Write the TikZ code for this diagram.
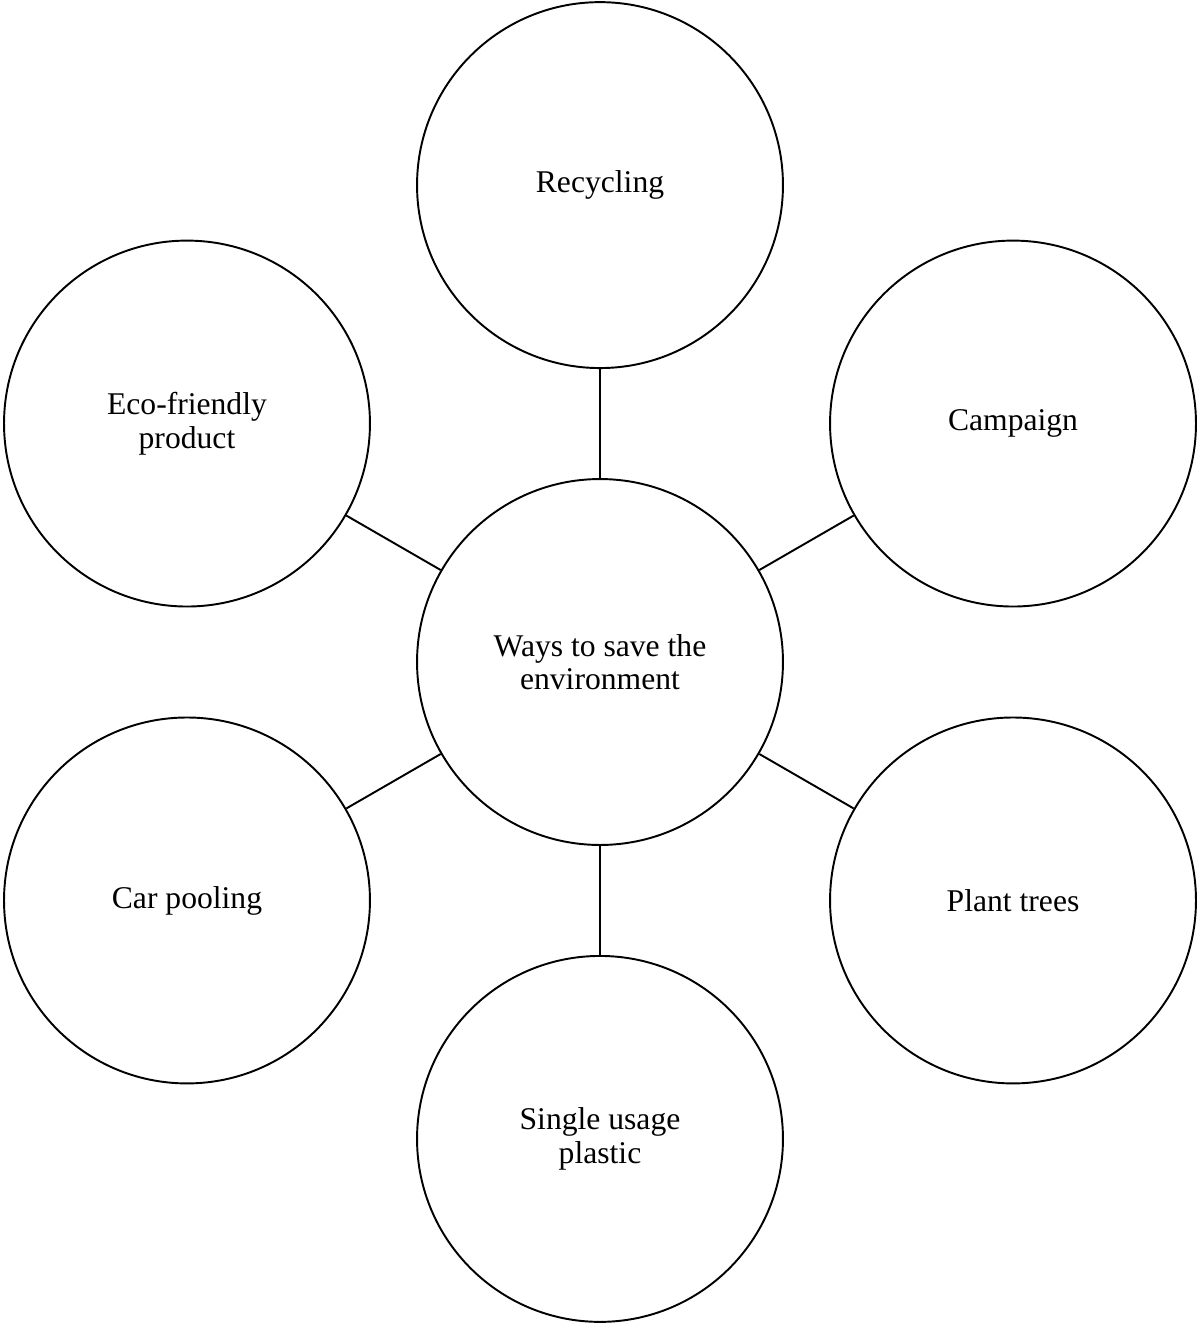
\documentclass[tikz,border=0pt]{standalone}
\usepackage{fontspec}
\setmainfont{Liberation Serif}
\begin{document}
\begin{tikzpicture}[x=.02cm,y=-.02cm, bub/.style={draw,circle,line width=1.1pt,minimum size=7.32cm,inner sep=0pt,align=center,font=\fontsize{18}{19}\selectfont}]
\useasboundingbox (0,0) rectangle (1198,1323);
\node[bub] (w) at (600,662) {Ways to save the\\environment};
\path (w) ++(90:9.54cm) node[bub] (rec) {Recycling}
 (w) ++(30:9.54cm) node[bub] (camp) {Campaign}
 (w) ++(-30:9.54cm) node[bub] (plant) {Plant trees}
 (w) ++(-90:9.54cm) node[bub] (single) {Single usage\\plastic}
 (w) ++(210:9.54cm) node[bub] (car) {Car pooling}
 (w) ++(150:9.54cm) node[bub] (eco) {Eco-friendly\\product};
\foreach \n in {rec, camp, plant, single, car, eco} \draw[line width=1.1pt] (w) -- (\n);
\end{tikzpicture}
\end{document}
